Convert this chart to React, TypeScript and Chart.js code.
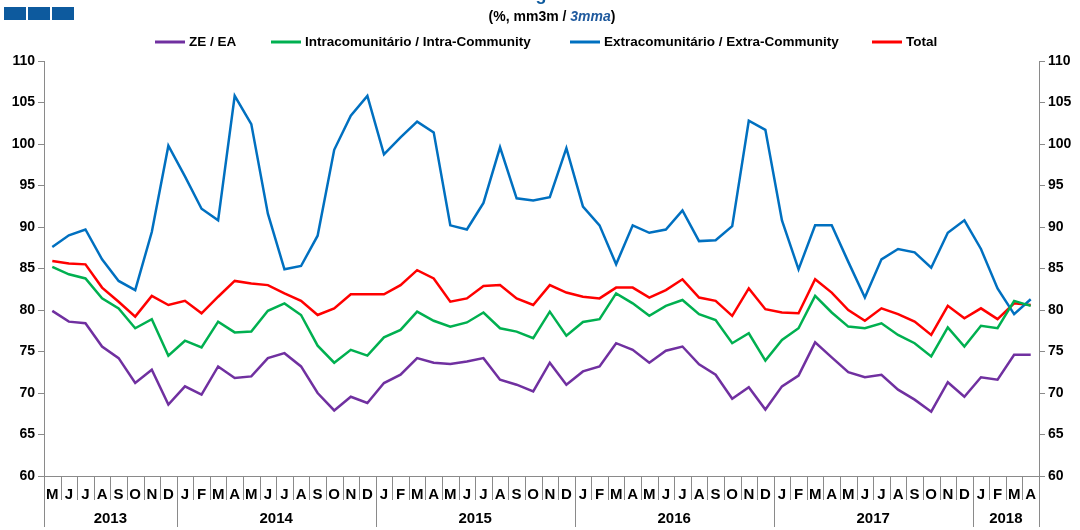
import React, { useEffect, useRef } from 'react';
import { Chart, registerables } from 'chart.js';

Chart.register(...registerables);

const monthLabels = [
  'M', 'J', 'J', 'A', 'S', 'O', 'N', 'D',
  'J', 'F', 'M', 'A', 'M', 'J', 'J', 'A', 'S', 'O', 'N', 'D',
  'J', 'F', 'M', 'A', 'M', 'J', 'J', 'A', 'S', 'O', 'N', 'D',
  'J', 'F', 'M', 'A', 'M', 'J', 'J', 'A', 'S', 'O', 'N', 'D',
  'J', 'F', 'M', 'A', 'M', 'J', 'J', 'A', 'S', 'O', 'N', 'D',
  'J', 'F', 'M', 'A',
];
const yearLabels = ['2013', '2014', '2015', '2016', '2017', '2018'];
const yearMonthCounts = [8, 12, 12, 12, 12, 4];

const zeEa = [
  79.9, 78.6, 78.4, 75.6, 74.2, 71.2, 72.8, 68.6, 70.8, 69.8,
  73.2, 71.8, 72.0, 74.2, 74.8, 73.2, 70.0, 67.9, 69.55, 68.8,
  71.2, 72.2, 74.2, 73.65, 73.5, 73.8, 74.2, 71.6, 71.0, 70.2,
  73.65, 71.0, 72.6, 73.2, 76.0, 75.2, 73.65, 75.1, 75.6, 73.45,
  72.2, 69.3, 70.7, 68.0, 70.8, 72.1, 76.1, 74.3, 72.5, 71.9,
  72.2, 70.4, 69.2, 67.75, 71.3, 69.55, 71.9, 71.6, 74.6, 74.6,
];
const intra = [
  85.2, 84.3, 83.8, 81.4, 80.2, 77.8, 78.9, 74.5, 76.3, 75.5,
  78.6, 77.3, 77.4, 79.9, 80.8, 79.4, 75.7, 73.65, 75.2, 74.5,
  76.7, 77.6, 79.8, 78.7, 78.0, 78.5, 79.7, 77.8, 77.4, 76.6,
  79.8, 76.9, 78.55, 78.9, 82.0, 80.8, 79.3, 80.5, 81.2, 79.5,
  78.8, 76.0, 77.2, 73.9, 76.4, 77.8, 81.7, 79.7, 78.0, 77.8,
  78.4, 77.0, 76.0, 74.4, 77.9, 75.6, 78.1, 77.8, 81.1, 80.5,
];
const extra = [
  87.6, 89.0, 89.7, 86.1, 83.5, 82.4, 89.4, 99.8, 96.1, 92.2,
  90.8, 105.8, 102.4, 91.6, 84.9, 85.3, 88.95, 99.3, 103.4, 105.8,
  98.75, 100.8, 102.7, 101.4, 90.2, 89.7, 92.9, 99.6, 93.45, 93.2,
  93.6, 99.5, 92.45, 90.2, 85.5, 90.2, 89.3, 89.7, 92.0, 88.3,
  88.4, 90.1, 102.8, 101.7, 90.8, 84.9, 90.2, 90.2, 85.8, 81.5,
  86.1, 87.35, 86.95, 85.1, 89.3, 90.8, 87.35, 82.6, 79.5, 81.3,
];
const total = [
  85.9, 85.6, 85.5, 82.7, 81.0, 79.2, 81.7, 80.6, 81.1, 79.6,
  81.6, 83.5, 83.2, 83.0, 82.0, 81.1, 79.4, 80.2, 81.9, 81.9,
  81.9, 83.0, 84.8, 83.8, 81.0, 81.4, 82.9, 83.0, 81.4, 80.6,
  83.0, 82.1, 81.6, 81.4, 82.7, 82.7, 81.5, 82.4, 83.7, 81.5,
  81.1, 79.3, 82.6, 80.1, 79.7, 79.6, 83.7, 82.1, 80.0, 78.7,
  80.2, 79.5, 78.6, 77.0, 80.5, 79.0, 80.2, 78.9, 80.8, 80.6,
];

const seriesNames = [
  'ZE / EA',
  'Intracomunitário / Intra-Community',
  'Extracomunitário / Extra-Community',
  'Total',
];
const seriesData = [zeEa, intra, extra, total];
const seriesColors = ['#7030a0', '#00b050', '#0070c0', '#ff0000'];

const yMin = 60;
const yMax = 110;
const yStep = 5;

const FONT = '"Liberation Sans", Arial, Helvetica, sans-serif';
const AXIS_GRAY = '#8a8a8a';

const decorPlugin = {
  id: 'decor',
  afterDraw(chart: any) {
    const { ctx, chartArea, scales } = chart;
    const xs = scales.x;
    const bottom = chartArea.bottom;
    ctx.save();

    // month / year separators
    const yearStarts = new Set<number>();
    let acc = 0;
    yearMonthCounts.forEach((c) => {
      acc += c;
      yearStarts.add(acc);
    });
    ctx.strokeStyle = AXIS_GRAY;
    ctx.lineWidth = 1;
    const n = monthLabels.length;
    for (let i = 1; i < n; i++) {
      const px = Math.round((xs.getPixelForValue(i - 1) + xs.getPixelForValue(i)) / 2) + 0.5;
      const len = yearStarts.has(i) ? 51 : 24;
      ctx.beginPath();
      ctx.moveTo(px, bottom);
      ctx.lineTo(px, bottom + len);
      ctx.stroke();
    }
    [chartArea.left, chartArea.right].forEach((edge: number) => {
      const px = Math.round(edge) + 0.5;
      ctx.beginPath();
      ctx.moveTo(px, bottom);
      ctx.lineTo(px, bottom + 51);
      ctx.stroke();
    });

    // year labels
    ctx.fillStyle = '#000';
    ctx.font = `bold 15px ${FONT}`;
    ctx.textAlign = 'center';
    ctx.textBaseline = 'middle';
    let start = 0;
    yearLabels.forEach((yl, k) => {
      const end = start + yearMonthCounts[k] - 1;
      const cx = (xs.getPixelForValue(start) + xs.getPixelForValue(end)) / 2;
      ctx.fillText(yl, cx, bottom + 43);
      start = end + 1;
    });

    // header squares
    ctx.fillStyle = '#0d5a9e';
    [4, 28, 52].forEach((sx) => ctx.fillRect(sx, 7, 22, 13));

    // cut-off title (only descender visible)
    ctx.fillStyle = '#0d5a9e';
    ctx.font = `bold 18px ${FONT}`;
    ctx.textAlign = 'center';
    ctx.textBaseline = 'alphabetic';
    ctx.fillText('g', 541, 0);

    // subtitle
    ctx.textBaseline = 'middle';
    ctx.textAlign = 'left';
    const parts = [
      { t: '(%, mm3m / ', f: `bold 14px ${FONT}`, c: '#000' },
      { t: '3mma', f: `italic bold 14px ${FONT}`, c: '#1f5a9e' },
      { t: ')', f: `bold 14px ${FONT}`, c: '#000' },
    ];
    let w = 0;
    parts.forEach((p) => {
      ctx.font = p.f;
      w += ctx.measureText(p.t).width;
    });
    let sx = 552 - w / 2;
    parts.forEach((p) => {
      ctx.font = p.f;
      ctx.fillStyle = p.c;
      ctx.fillText(p.t, sx, 17);
      sx += ctx.measureText(p.t).width;
    });

    // legend
    const legendX = [155, 271, 570, 872];
    const ly = 42;
    ctx.font = `bold 13.5px ${FONT}`;
    seriesNames.forEach((name, k) => {
      const lx = legendX[k];
      ctx.strokeStyle = seriesColors[k];
      ctx.lineWidth = 3;
      ctx.beginPath();
      ctx.moveTo(lx, ly);
      ctx.lineTo(lx + 30, ly);
      ctx.stroke();
      ctx.fillStyle = '#000';
      ctx.fillText(name, lx + 34, ly);
    });

    ctx.restore();
  },
};

export default function App() {
  const canvasRef = useRef<HTMLCanvasElement | null>(null);

  useEffect(() => {
    if (!canvasRef.current) return;
    const yAxisCommon = {
      type: 'linear' as const,
      min: yMin,
      max: yMax,
      grid: {
        display: true,
        drawOnChartArea: false,
        drawTicks: true,
        tickLength: 6,
        color: AXIS_GRAY,
      },
      border: { display: true, color: AXIS_GRAY, width: 1 },
      ticks: {
        stepSize: yStep,
        color: '#000',
        padding: 3,
        font: { family: FONT, size: 14, weight: 'bold' as const },
      },
    };
    const chart = new Chart(canvasRef.current, {
      type: 'line',
      data: {
        labels: monthLabels,
        datasets: seriesData.map((d, k) => ({
          label: seriesNames[k],
          data: d,
          borderColor: seriesColors[k],
          backgroundColor: seriesColors[k],
          borderWidth: 2.5,
          pointRadius: 0,
          tension: 0,
          fill: false,
          yAxisID: 'y',
        })),
      },
      options: {
        animation: false,
        responsive: false,
        devicePixelRatio: 1,
        layout: { padding: { top: 61, left: 0, right: 0, bottom: 0 } },
        plugins: {
          legend: { display: false },
          title: { display: false },
          tooltip: { enabled: false },
        },
        scales: {
          x: {
            type: 'category',
            offset: true,
            grid: { display: false, drawTicks: false },
            border: { display: true, color: AXIS_GRAY, width: 1 },
            ticks: {
              autoSkip: false,
              maxRotation: 0,
              minRotation: 0,
              padding: 10,
              color: '#000',
              font: { family: FONT, size: 15, weight: 'bold' },
            },
            afterFit: (s: any) => {
              s.height = 54;
            },
          },
          y: {
            ...yAxisCommon,
            position: 'left',
            afterFit: (s: any) => {
              s.width = 44;
            },
          },
          y2: {
            ...yAxisCommon,
            position: 'right',
            afterFit: (s: any) => {
              s.width = 41;
            },
          },
        },
      },
      plugins: [decorPlugin],
    });
    return () => chart.destroy();
  }, []);

  return (
    <div style={{ position: 'absolute', left: 0, top: 0, width: 1080, height: 530 }}>
      <canvas ref={canvasRef} width={1080} height={530} style={{ display: 'block' }} />
    </div>
  );
}
